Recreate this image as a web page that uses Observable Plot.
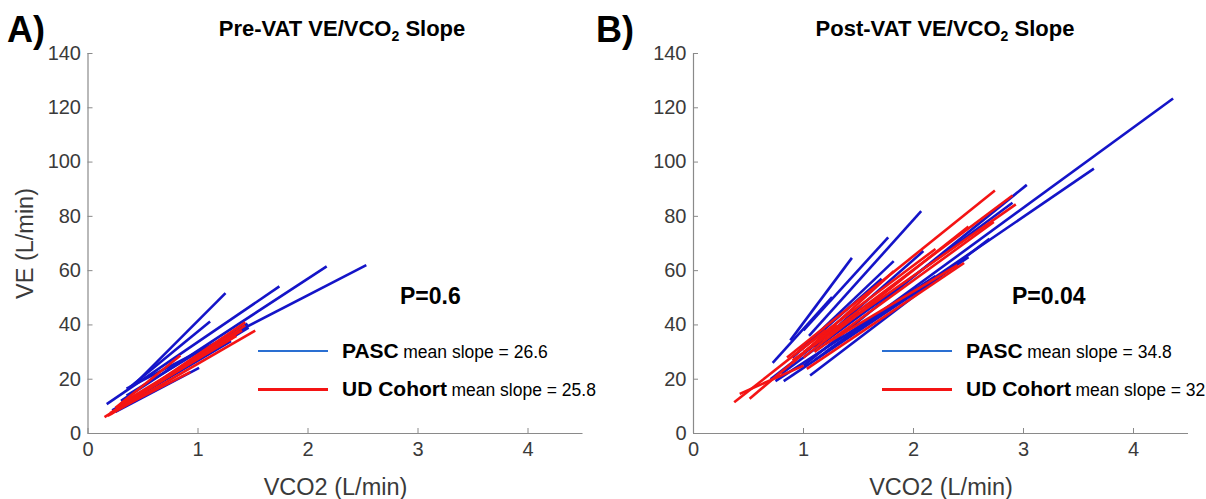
<!DOCTYPE html>
<html>
<head>
<meta charset="utf-8">
<script src="https://cdn.jsdelivr.net/npm/d3@7"></script>
<script src="https://cdn.jsdelivr.net/npm/@observablehq/plot@0.6"></script>
<style>
  html, body { margin: 0; padding: 0; background: #fff; }
  #root { position: relative; width: 1206px; height: 499px; overflow: hidden; font-family: "Liberation Sans", Arial, sans-serif; }
  .pane { position: absolute; top: 0; }
  .abs { position: absolute; white-space: nowrap; color: #000; line-height: 1.15; }
  .panel-tag { font-weight: bold; font-size: 36px; }
  .title { font-weight: bold; font-size: 22px; transform: translateX(-50%); }
  .pval { font-weight: bold; font-size: 23px; }
  .leg b { font-size: 21px; }
  .leg span { font-size: 17.5px; }
  .legline { position: absolute; }
</style>
</head>
<body>
<div id="root"></div>
<script>
// ---- data: segments [VCO2 start, VE start, VCO2 end, VE end] ----
const preBlue = [
  [0.42, 18.0, 1.25, 51.7],
  [0.38, 17.0, 1.11, 41.3],
  [0.17, 10.8, 1.74, 54.2],
  [0.35, 16.5, 2.53, 62.0],
  [0.30, 12.0, 2.17, 61.6],
  [0.25, 8.0, 1.01, 24.2],
  [0.30, 10.0, 1.45, 40.5],
  [0.25, 9.0, 1.30, 34.0],
  [0.40, 13.0, 1.46, 39.0],
  [0.22, 8.5, 1.20, 32.0],
  [0.35, 14.0, 1.00, 30.0]
];
const preRed = [
  [0.20, 7.0, 1.52, 37.9],
  [0.18, 6.5, 1.43, 41.0],
  [0.22, 8.0, 1.43, 39.8],
  [0.25, 9.5, 0.84, 28.7],
  [0.20, 7.5, 0.93, 22.6],
  [0.28, 10.0, 1.35, 36.0],
  [0.15, 6.0, 1.20, 33.0],
  [0.30, 11.0, 1.40, 38.0]
];
const postBlue = [
  [0.72, 26.0, 1.26, 50.2],
  [0.88, 34.3, 1.44, 64.7],
  [1.00, 38.0, 1.77, 72.3],
  [1.05, 36.0, 2.07, 81.9],
  [0.95, 30.0, 1.82, 63.5],
  [0.90, 28.0, 1.71, 57.0],
  [1.10, 32.0, 2.09, 67.2],
  [1.00, 25.0, 3.03, 91.6],
  [1.10, 27.0, 4.36, 123.4],
  [1.20, 30.0, 3.64, 97.6],
  [1.06, 21.4, 2.69, 71.7],
  [0.745, 19.3, 2.20, 58.0],
  [0.82, 19.3, 2.50, 65.0],
  [0.80, 22.0, 2.90, 85.0],
  [0.70, 20.0, 1.50, 45.0]
];
const postRed = [
  [0.85, 28.0, 2.74, 89.5],
  [0.90, 27.0, 2.93, 84.4],
  [1.00, 30.0, 2.90, 87.7],
  [1.03, 23.8, 2.46, 62.8],
  [1.00, 28.0, 2.50, 76.3],
  [1.10, 30.0, 2.73, 77.9],
  [0.90, 26.0, 1.82, 59.8],
  [0.37, 11.5, 1.20, 38.0],
  [0.51, 12.8, 1.30, 40.0],
  [0.42, 14.6, 1.00, 25.0],
  [1.20, 33.0, 2.40, 62.0],
  [0.95, 30.0, 2.20, 68.0]
];
const xTicks = [0, 1, 2, 3, 4];
const yTicks = [0, 20, 40, 60, 80, 100, 120, 140];
const panels = [
  {tag: "A)", title: "Pre-VAT VE/VCO", p: "P=0.6", pasc: "26.6", ud: "25.8", blue: preBlue, red: preRed},
  {tag: "B)", title: "Post-VAT VE/VCO", p: "P=0.04", pasc: "34.8", ud: "32", blue: postBlue, red: postRed}
];

const BLUE = "#1414c8", RED = "#f41414", AXIS = "#8a8a8a", TXT = "#3a3a3a";
const root = document.getElementById("root");

function seg(a) { return a.map(([x1, y1, x2, y2]) => ({x1, y1, x2, y2})); }

function makePlot(pn, i) {
  const left = i === 0 ? 0 : 600;
  const width = i === 0 ? 600 : 606;
  const marginLeft = i === 0 ? 87.5 : 93;
  const marginRight = i === 0 ? 17.5 : 18;
  const plot = Plot.plot({
    width, height: 499,
    marginLeft, marginRight, marginTop: 53, marginBottom: 66,
    style: {fontFamily: "'Liberation Sans', Arial, sans-serif", fontSize: "20px", color: TXT, background: "transparent", overflow: "visible"},
    x: {domain: [0, 4.5]},
    y: {domain: [0, 140]},
    marks: [
      Plot.ruleY([0], {stroke: AXIS, strokeWidth: 1.2}),
      Plot.ruleX([0], {stroke: AXIS, strokeWidth: 1.2}),
      Plot.axisX(xTicks, {tickSize: -5, stroke: AXIS, tickPadding: 13, fill: TXT, fontSize: 20}),
      Plot.axisX({ticks: [], label: "VCO2 (L/min)", labelAnchor: "center", labelOffset: 61, labelArrow: "none", fill: TXT, fontSize: 23.5}),
      Plot.axisY(yTicks, {tickSize: -5, stroke: AXIS, tickPadding: 12, fill: TXT, fontSize: 20}),
      ...(i === 0 ? [Plot.axisY({ticks: [], label: "VE (L/min)", labelAnchor: "center", labelOffset: 72, labelArrow: "none", fill: TXT, fontSize: 23.5})] : [Plot.axisY({ticks: [], label: null})]),
      Plot.link(seg(pn.blue), {x1: "x1", y1: "y1", x2: "x2", y2: "y2", stroke: BLUE, strokeWidth: 2.6}),
      Plot.link(seg(pn.red), {x1: "x1", y1: "y1", x2: "x2", y2: "y2", stroke: RED, strokeWidth: 2.6})
    ]
  });
  const wrap = document.createElement("div");
  wrap.className = "pane";
  wrap.style.left = left + "px";
  wrap.appendChild(plot);
  root.appendChild(wrap);

  const add = (html, css, cls) => {
    const d = document.createElement("div");
    d.className = "abs " + (cls || "");
    d.innerHTML = html;
    Object.assign(d.style, css);
    root.appendChild(d);
    return d;
  };
  add(pn.tag, {left: (i === 0 ? 7 : 596) + "px", top: "9px"}, "panel-tag");
  add(pn.title + "<sub style='font-size:14px'>2</sub> Slope", {left: (left + (i === 0 ? 342 : 345)) + "px", top: "16px"}, "title");
  add(pn.p, {left: (left + (i === 0 ? 400 : 412)) + "px", top: "283px"}, "pval");
  // legend
  const lx = left + (i === 0 ? 258 : 282);
  const l1 = document.createElement("div");
  l1.className = "legline";
  Object.assign(l1.style, {left: lx + "px", top: "350px", width: "70px", height: "1.6px", background: "#2a6fd2"});
  root.appendChild(l1);
  const l2 = document.createElement("div");
  l2.className = "legline";
  Object.assign(l2.style, {left: lx + "px", top: "387.5px", width: "70px", height: "3px", background: RED});
  root.appendChild(l2);
  add("<b>PASC</b> <span>mean slope = " + pn.pasc + "</span>", {left: (lx + 84) + "px", top: "339px"}, "leg");
  add("<b>UD Cohort</b> <span>mean slope = " + pn.ud + "</span>", {left: (lx + 84) + "px", top: "377px"}, "leg");
}
panels.forEach(makePlot);
</script>
</body>
</html>
